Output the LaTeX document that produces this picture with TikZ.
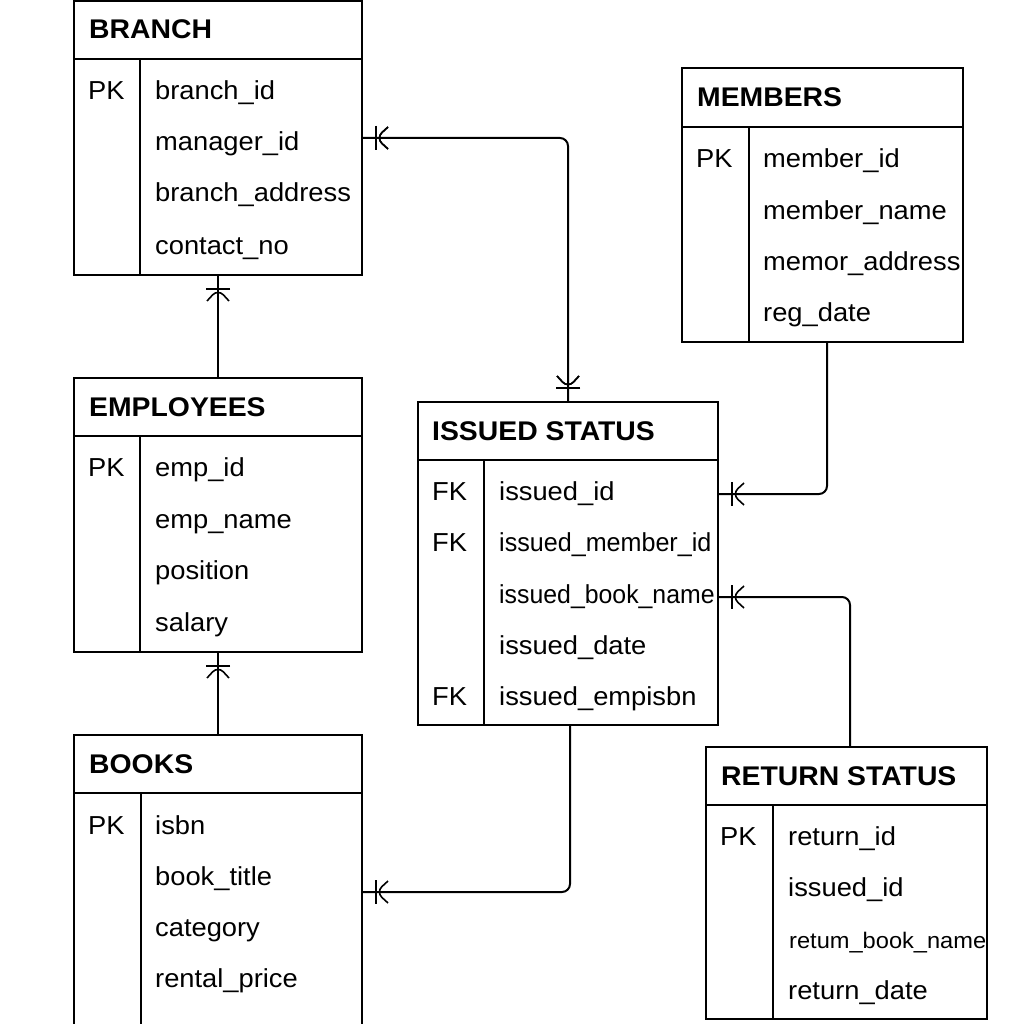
\documentclass[tikz,border=0pt]{standalone}
\usepackage{fontspec}
\setmainfont{Liberation Sans}[FakeStretch=1.05]
\usepackage{graphicx}
\usetikzlibrary{decorations.markings}
\tikzset{
  ent/.style={draw, line width=2pt, inner sep=0pt, outer sep=0pt, anchor=north west},
  rulel/.style={line width=2pt},
  hdr/.style={anchor=base west, inner sep=0pt, font=\fontsize{27}{32}\selectfont\bfseries},
  fld/.style={anchor=base west, inner sep=0pt, font=\fontsize{26}{30}\selectfont},
  conn/.style={line width=2pt, rounded corners=8pt},
  manyend/.style={postaction=decorate, decoration={markings, mark=at position 1 with {
      \draw[line width=1.6pt] (-14pt,-12pt) -- (-14pt,12pt);
      \draw[line width=1.6pt] (-26pt,-11pt) -- (-14pt,0pt) -- (-26pt,11pt);}}},
  manystart/.style={postaction=decorate, decoration={markings, mark=at position 0 with {
      \draw[line width=1.6pt] (14pt,-12pt) -- (14pt,12pt);
      \draw[line width=1.6pt] (26pt,-11pt) -- (14pt,0pt) -- (26pt,11pt);}}}
}
\begin{document}
\begin{tikzpicture}[x=1pt,y=-1pt]
\path[use as bounding box, fill=white] (0,0) rectangle (1024,1024);

% BRANCH
\node[ent, minimum width=288pt, minimum height=274pt] (branch) at (74,1) {};
\draw[rulel] (74,59) -- (362,59);
\draw[rulel] (140,59) -- (140,275);
\node[hdr] (branchT) at (89,39) {BRANCH};
\node[fld] (branchK) at (88,100) {PK};
\node[fld] (branchA) at (155,100) {branch\_id};
\node[fld] (branchB) at (155,151) {manager\_id};
\node[fld] (branchC) at (155,202) {branch\_address};
\node[fld] (branchD) at (155,254) {contact\_no};

% MEMBERS
\node[ent, minimum width=281pt, minimum height=274pt] (members) at (682,68) {};
\draw[rulel] (682,127) -- (963,127);
\draw[rulel] (749,127) -- (749,342);
\node[hdr] (membersT) at (697,107) {MEMBERS};
\node[fld] (membersK) at (696,168) {PK};
\node[fld] (membersA) at (763,168) {member\_id};
\node[fld] (membersB) at (763,219) {member\_name};
\node[fld] (membersC) at (763,270) {memor\_address};
\node[fld] (membersD) at (763,321) {reg\_date};

% EMPLOYEES
\node[ent, minimum width=288pt, minimum height=274pt] (employees) at (74,378) {};
\draw[rulel] (74,436) -- (362,436);
\draw[rulel] (140,436) -- (140,652);
\node[hdr] (employeesT) at (89,416) {EMPLOYEES};
\node[fld] (employeesK) at (88,476) {PK};
\node[fld] (employeesA) at (155,476) {emp\_id};
\node[fld] (employeesB) at (155,528) {emp\_name};
\node[fld] (employeesC) at (155,579) {position};
\node[fld] (employeesD) at (155,631) {salary};

% ISSUED STATUS
\node[ent, minimum width=300pt, minimum height=323pt] (issued) at (418,402) {};
\draw[rulel] (418,460) -- (718,460);
\draw[rulel] (484,460) -- (484,725);
\node[hdr] (issuedT) at (432,440) {ISSUED STATUS};
\node[fld] (issuedK1) at (432,500) {FK};
\node[fld] (issuedA) at (499,500) {issued\_id};
\node[fld] (issuedK2) at (432,551) {FK};
\node[fld] (issuedB) at (499,551) {\scalebox{0.92}[1]{issued\_member\_id}};
\node[fld] (issuedC) at (499,603) {\scalebox{0.91}[1]{issued\_book\_name}};
\node[fld] (issuedD) at (499,654) {issued\_date};
\node[fld] (issuedK3) at (432,705) {FK};
\node[fld] (issuedE) at (499,705) {issued\_empisbn};

% BOOKS
\node[ent, minimum width=288pt, minimum height=320pt] (books) at (74,735) {};
\draw[rulel] (74,793) -- (362,793);
\draw[rulel] (141,793) -- (141,1055);
\node[hdr] (booksT) at (89,773) {BOOKS};
\node[fld] (booksK) at (88,834) {PK};
\node[fld] (booksA) at (155,834) {isbn};
\node[fld] (booksB) at (155,885) {book\_title};
\node[fld] (booksC) at (155,936) {category};
\node[fld] (booksD) at (155,987) {rental\_price};

% RETURN STATUS
\node[ent, minimum width=281pt, minimum height=272pt] (return) at (706,747) {};
\draw[rulel] (706,805) -- (987,805);
\draw[rulel] (773,805) -- (773,1019);
\node[hdr] (returnT) at (721,785) {RETURN STATUS};
\node[fld] (returnK) at (720,845) {PK};
\node[fld] (returnA) at (788,845) {return\_id};
\node[fld] (returnB) at (788,896) {issued\_id};
\node[fld, font=\fontsize{22.5}{27}\selectfont] (returnC) at (789,948) {retum\_book\_name};
\node[fld] (returnD) at (788,999) {return\_date};

% connectors
\draw[conn, manystart, manyend] (issued.north) |- (branch.east);
\draw[conn, manyend] (employees.north) -- (branch.south);
\draw[conn, manyend] (books.north) -- (employees.south);
\draw[conn, manyend] (members.south -| 827,0) |- (issued.east |- 0,494);
\draw[conn, manyend] (return.north -| 850,0) |- (issued.east |- 0,597);
\draw[conn, manyend] (issued.south -| 570,0) |- (books.east |- 0,892);
\end{tikzpicture}
\end{document}
